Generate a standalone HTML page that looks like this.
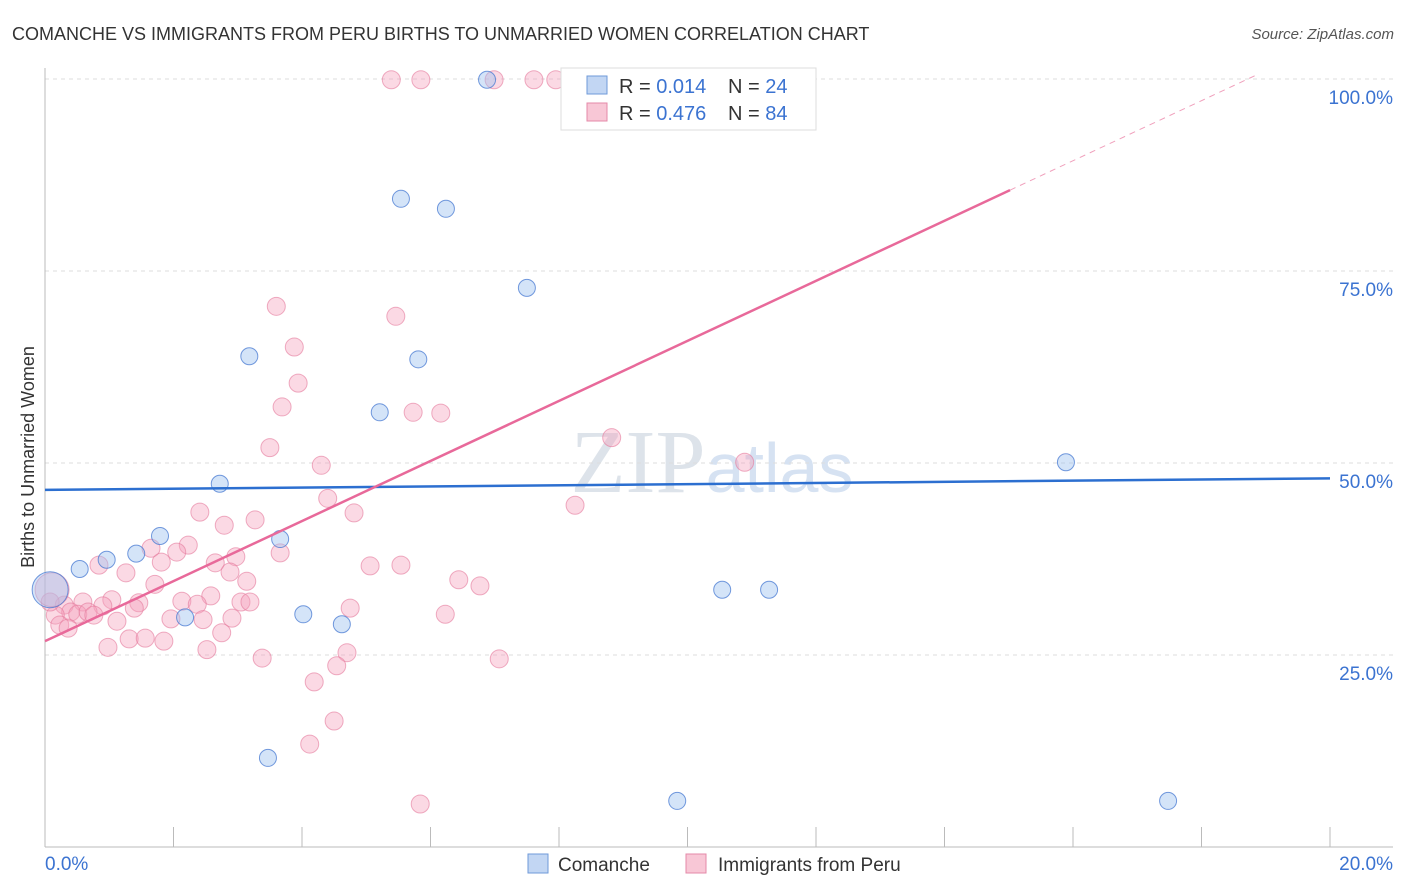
<!DOCTYPE html>
<html><head><meta charset="utf-8"><style>
body{margin:0;background:#fff;font-family:"Liberation Sans",sans-serif;}
svg{display:block}
</style></head><body>
<svg id="chart" width="1406" height="892">
<text x="12" y="40" font-size="18" fill="#333">COMANCHE VS IMMIGRANTS FROM PERU BIRTHS TO UNMARRIED WOMEN CORRELATION CHART</text>
<text x="1394" y="39" font-size="15" fill="#555" font-style="italic" text-anchor="end">Source: ZipAtlas.com</text>
<text transform="translate(34,457) rotate(-90)" font-size="18" fill="#333" text-anchor="middle">Births to Unmarried Women</text>
<text x="712" y="492" font-size="90" fill="#dde3ea" text-anchor="middle" font-family="Liberation Serif,serif">ZIP<tspan fill="#d6e2f2" font-family="Liberation Sans,sans-serif" font-size="70">atlas</tspan></text>
<g id="grid"></g><g id="pts"></g><g id="lines"></g>
<g>
<rect x="561" y="68" width="255" height="62" fill="#fff" stroke="#ddd"/>
<rect x="587" y="76" width="20" height="18" fill="#c2d6f3" stroke="#6f9ad8"/>
<rect x="587" y="103" width="20" height="18" fill="#f8c7d6" stroke="#e48aa8"/>
<text x="619" y="93" font-size="20" fill="#333">R = <tspan fill="#3b73d1">0.014</tspan></text>
<text x="728" y="93" font-size="20" fill="#333">N = <tspan fill="#3b73d1">24</tspan></text>
<text x="619" y="120" font-size="20" fill="#333">R = <tspan fill="#3b73d1">0.476</tspan></text>
<text x="728" y="120" font-size="20" fill="#333">N = <tspan fill="#3b73d1">84</tspan></text>
</g>
<g>
<rect x="528" y="854" width="20" height="19" fill="#c2d6f3" stroke="#6f9ad8"/>
<text x="558" y="871" font-size="19" fill="#333">Comanche</text>
<rect x="686" y="854" width="20" height="19" fill="#f8c7d6" stroke="#e48aa8"/>
<text x="718" y="871" font-size="19" fill="#333">Immigrants from Peru</text>
</g>
<text x="45" y="870" font-size="19" fill="#3b73d1">0.0%</text>
<text x="1393" y="870" font-size="19" fill="#3b73d1" text-anchor="end">20.0%</text>
</svg>
<script>
const yTicks=[25,50,75,100];
const yTickLabels=["25.0%","50.0%","75.0%","100.0%"];
const blueX=[6.88,11.0,5.54,6.24,7.50,3.18,5.81,5.21,2.72,15.89,1.79,3.66,0.96,1.42,0.54,0.08,2.18,4.02,4.62,10.54,11.27,3.47,9.84,17.48];
const blueY=[99.9,99.9,84.4,83.1,72.8,63.9,63.5,56.6,47.3,50.1,40.5,40.1,37.4,38.2,36.2,33.5,29.9,30.3,29.0,33.5,33.5,11.6,6.0,6.0];
const pinkX=[5.39,5.85,6.99,7.61,7.95,3.60,5.46,3.88,3.94,3.69,5.73,6.16,3.50,8.82,4.30,10.89,4.40,8.25,4.81,2.41,3.27,2.79,1.65,2.23,2.05,3.66,0.84,2.97,1.81,2.65,1.26,2.88,5.06,5.54,3.14,1.71,6.44,6.77,0.59,1.04,1.46,2.58,3.05,3.19,2.13,2.37,1.39,0.90,4.75,0.30,0.40,0.16,0.51,0.67,0.76,0.23,0.36,1.12,1.96,2.91,2.46,6.23,2.75,1.31,1.56,0.98,1.85,2.52,4.70,3.38,7.07,4.54,4.19,4.50,4.12,5.84,0.08,0.11];
const pinkY=[99.9,99.9,99.9,99.9,99.9,70.4,69.1,65.1,60.4,57.3,56.6,56.5,52.0,53.3,49.7,50.1,45.4,44.5,43.5,43.6,42.6,41.9,38.9,39.3,38.4,38.3,36.7,37.8,37.1,37.0,35.7,35.8,36.6,36.7,34.6,34.2,34.8,34.0,31.9,32.2,31.8,32.7,31.9,31.9,32.0,31.6,31.1,31.4,31.1,31.5,30.6,30.2,30.3,30.6,30.2,28.9,28.5,29.4,29.7,29.8,29.6,30.3,27.9,27.1,27.2,26.0,26.8,25.7,25.3,24.6,24.5,23.6,21.5,16.4,13.4,5.6,31.9,33.5];
const blueTrend=[46.5,48.0];
const pinkTrend=[26.8,3.91];
const NS="http://www.w3.org/2000/svg";
const X=v=>45+v*64.25, Y=v=>847-v*7.68;
function mk(t,a,p){const e=document.createElementNS(NS,t);for(const k in a)e.setAttribute(k,a[k]);p.appendChild(e);return e;}
const grid=document.getElementById('grid');
yTicks.forEach((t,i)=>{
 const l=mk('line',{x1:45,x2:1393,y1:Y(t),y2:Y(t),stroke:'#ddd','stroke-dasharray':'4,4'},grid);
 
 
 const tx=mk('text',{x:1393,y:Y(t)+25,'font-size':19,fill:'#3b73d1','text-anchor':'end'},grid);
 tx.textContent=yTickLabels[i];
 
 
});
mk('line',{x1:45,x2:45,y1:68,y2:847,stroke:'#bbb'},grid);
mk('line',{x1:45,x2:1393,y1:847,y2:847,stroke:'#bbb'},grid);
for(let i=0;i<=10;i++){mk('line',{x1:X(i*2),x2:X(i*2),y1:827,y2:847,stroke:'#bbb'},grid);}
const pts=document.getElementById('pts');
pinkX.forEach((x,i)=>{const c=mk('circle',{cx:X(x),cy:Y(pinkY[i]),r:(i>=pinkX.length-2?(i==pinkX.length-1?17:9):9),fill:'rgba(244,160,188,0.4)',stroke:'rgba(228,120,155,0.6)','stroke-width':1},pts);
 
 });
blueX.forEach((x,i)=>{const c=mk('circle',{cx:X(x),cy:Y(blueY[i]),r:(x<0.1&&blueY[i]>33&&blueY[i]<34)?18:8.5,fill:'rgba(160,195,240,0.45)',stroke:'rgba(70,120,210,0.75)','stroke-width':1},pts);
 
 });
const lines=document.getElementById('lines');
const bl=mk('line',{x1:X(0),y1:Y(blueTrend[0]),x2:X(20),y2:Y(blueTrend[1]),stroke:'#2c6fd0','stroke-width':2.5},lines);


const pe=15.02, pe2=18.83;
const pl=mk('line',{x1:X(0),y1:Y(pinkTrend[0]),x2:X(pe),y2:Y(pinkTrend[0]+pinkTrend[1]*pe),stroke:'#e8699a','stroke-width':2.5},lines);


const pd=mk('line',{x1:X(pe),y1:Y(pinkTrend[0]+pinkTrend[1]*pe),x2:X(pe2),y2:Y(pinkTrend[0]+pinkTrend[1]*pe2),stroke:'#f0a0bc','stroke-width':1,'stroke-dasharray':'6,5'},lines);


</script>
</body></html>
